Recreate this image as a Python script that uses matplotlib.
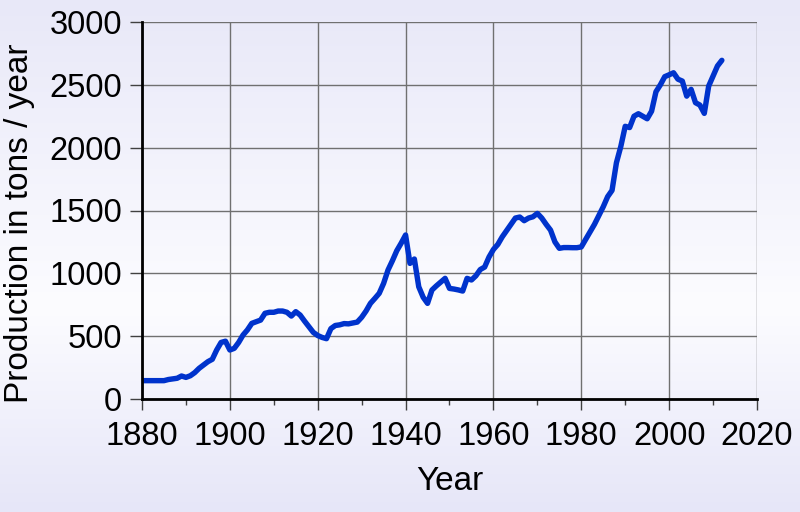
import numpy as np
import matplotlib
matplotlib.use("Agg")
import matplotlib.pyplot as plt
from matplotlib.ticker import MultipleLocator

years = list(range(1880, 2013))
production = [
    146, 146, 146, 146, 146, 146, 155, 160, 165, 183,          # 1880s
    172, 185, 210, 244, 270, 297, 316, 390, 450, 460,          # 1890s
    390, 403, 450, 509, 550, 602, 615, 628, 682, 690,          # 1900s
    690, 700, 700, 690, 660, 695, 668, 620, 575, 530,          # 1910s
    505, 490, 480, 560, 585, 590, 600, 598, 605, 612,          # 1920s
    650, 700, 761, 800, 841, 920, 1026, 1100, 1180, 1240,      # 1930s
    1305, 1079, 1114, 893, 810, 761, 867, 900, 930, 960,       # 1940s
    880, 875, 868, 859, 960, 947, 980, 1030, 1050, 1130,       # 1950s
    1190, 1230, 1290, 1340, 1390, 1440, 1448, 1419, 1440, 1450,  # 1960s
    1477, 1440, 1390, 1344, 1250, 1199, 1205, 1205, 1204, 1204,  # 1970s
    1210, 1270, 1330, 1390, 1460, 1530, 1610, 1660, 1880, 2010,  # 1980s
    2170, 2160, 2250, 2270, 2250, 2230, 2290, 2445, 2500, 2565,  # 1990s
    2580, 2596, 2545, 2530, 2410, 2464, 2358, 2339, 2273, 2490,  # 2000s
    2570, 2650, 2695,                                            # 2010s
]

x_ticks = [1880, 1900, 1920, 1940, 1960, 1980, 2000, 2020]
y_ticks = [0, 500, 1000, 1500, 2000, 2500, 3000]

plt.rcParams['font.family'] = ['Liberation Sans', 'DejaVu Sans']

W, H = 800, 512
fig = plt.figure(figsize=(W / 100, H / 100), dpi=100)

# background gradient over whole figure
bg = fig.add_axes([0, 0, 1, 1], zorder=-10)
ypos = np.linspace(0, 1, H)
top = np.array([232, 232, 248]) / 255
mid = np.array([252, 252, 255]) / 255
bot = np.array([230, 230, 248]) / 255
cols = np.zeros((H, 1, 3))
for i, t in enumerate(ypos):
    if t < 0.6:
        f = t / 0.6
        cols[i, 0] = top * (1 - f) + mid * f
    else:
        f = (t - 0.6) / 0.4
        cols[i, 0] = mid * (1 - f) + bot * f
bg.imshow(cols, aspect='auto', extent=[0, 1, 1, 0])
bg.set_axis_off()

ax = fig.add_axes([142 / W, 1 - 399 / H, (757 - 142) / W, (399 - 22) / H])
ax.patch.set_alpha(0)

ax.plot(years, production, color='#0033cc', lw=3.9, solid_capstyle='round',
        solid_joinstyle='round', zorder=3)

ax.set_xlim(1880, 2020)
ax.set_ylim(0, 3000)
ax.set_xticks(x_ticks)
ax.set_yticks(y_ticks)
ax.xaxis.set_minor_locator(MultipleLocator(10))

ax.grid(True, which='major', color='#707070', lw=1.0)
ax.set_axisbelow(True)

for s in ['top', 'right']:
    ax.spines[s].set_visible(False)
for s in ['left', 'bottom']:
    ax.spines[s].set_linewidth(2.0)
    ax.spines[s].set_color('black')
    ax.spines[s].set_zorder(4)

ax.tick_params(axis='x', which='major', length=8, width=1, color='#404040',
               labelsize=23.5, pad=8)
ax.tick_params(axis='x', which='minor', length=4, width=1, color='#404040')
ax.tick_params(axis='y', which='major', length=8.5, width=1, color='#404040',
               labelsize=23.5, pad=6)

ax.set_xlabel('Year', fontsize=24, labelpad=10)
ax.set_ylabel('Production in tons / year', fontsize=24)
ax.yaxis.set_label_coords(-0.174, 0.465)

fig.savefig('out.png', dpi=100)
